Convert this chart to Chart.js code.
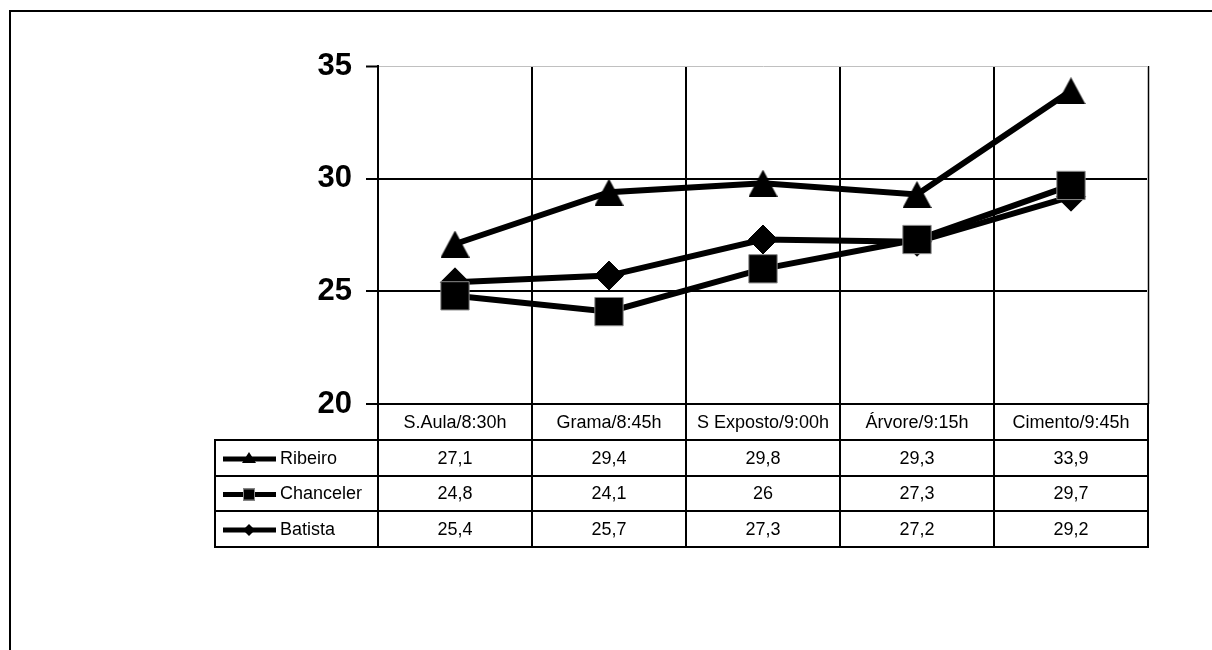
<!DOCTYPE html>
<html><head><meta charset="utf-8">
<script src="https://cdn.jsdelivr.net/npm/chart.js@4/dist/chart.umd.min.js"></script>
<style>html,body{margin:0;padding:0;background:#fff;} canvas{display:block;}</style>
</head><body>
<canvas id="c" width="1212" height="650"></canvas>
<script>
const categories = ['S.Aula/8:30h', 'Grama/8:45h', 'S Exposto/9:00h', 'Árvore/9:15h', 'Cimento/9:45h'];
const seriesNames = ['Ribeiro', 'Chanceler', 'Batista'];
const ribeiro = [27.1, 29.4, 29.8, 29.3, 33.9];
const chanceler = [24.8, 24.1, 26, 27.3, 29.7];
const batista = [25.4, 25.7, 27.3, 27.2, 29.2];
const yTicks = [20, 25, 30, 35];

const seriesValues = [ribeiro, chanceler, batista];
const markerStyles = ['triangle', 'rect', 'rectRot'];
const FONT = '"Liberation Sans", Arial, sans-serif';

const fmt = v => String(v).replace('.', ',');

// centered triangle marker image
const triCanvas = document.createElement('canvas');
triCanvas.width = 29; triCanvas.height = 27;
(function () {
  const t = triCanvas.getContext('2d');
  t.fillStyle = '#000';
  t.beginPath();
  t.moveTo(14.5, 0); t.lineTo(29, 27); t.lineTo(0, 27); t.closePath();
  t.fill();
})();

const tablePlugin = {
  id: 'tableAndFrame',
  afterDraw(chart) {
    const ctx = chart.ctx;
    const a = chart.chartArea;
    const n = categories.length;
    const colW = (a.right - a.left) / n;
    const rows = [a.bottom, 440, 476, 511, 547];
    const tableLeft = 215;
    ctx.save();
    // outer frame
    ctx.strokeStyle = '#000';
    ctx.lineWidth = 2;
    ctx.beginPath();
    ctx.moveTo(10, 650); ctx.lineTo(10, 11); ctx.lineTo(1212, 11);
    ctx.stroke();
    // plot right border (gray)
    ctx.strokeStyle = '#c0c0c0';
    ctx.lineWidth = 1;
    ctx.beginPath();
    ctx.moveTo(a.right - 0.5, a.top); ctx.lineTo(a.right - 0.5, a.bottom);
    ctx.moveTo(a.right + 1.5, a.top); ctx.lineTo(a.right + 1.5, a.bottom);
    ctx.stroke();
    // table lines
    ctx.strokeStyle = '#000';
    ctx.lineWidth = 2;
    ctx.beginPath();
    for (let i = 0; i <= n; i++) {
      const x = Math.round(a.left + i * colW);
      ctx.moveTo(x, a.bottom); ctx.lineTo(x, rows[4]);
    }
    ctx.moveTo(tableLeft, rows[1]); ctx.lineTo(tableLeft, rows[4]);
    for (let r = 1; r <= 4; r++) {
      ctx.moveTo(tableLeft - 1, rows[r]); ctx.lineTo(a.right + 1, rows[r]);
    }
    ctx.moveTo(a.left, rows[0]); ctx.lineTo(a.right + 1, rows[0]);
    ctx.stroke();
    // header text
    ctx.fillStyle = '#000';
    ctx.font = '18px ' + FONT;
    ctx.textAlign = 'center';
    ctx.textBaseline = 'middle';
    categories.forEach((c, i) => {
      ctx.fillText(c, a.left + (i + 0.5) * colW, (rows[0] + rows[1]) / 2 + 1);
    });
    // series rows
    seriesNames.forEach((name, s) => {
      const yc = (rows[s + 1] + rows[s + 2]) / 2 + 1;
      ctx.strokeStyle = '#000';
      ctx.lineWidth = 5;
      ctx.beginPath();
      ctx.moveTo(223, yc); ctx.lineTo(276, yc);
      ctx.stroke();
      ctx.fillStyle = '#000';
      ctx.beginPath();
      const mx = 249;
      if (markerStyles[s] === 'triangle') {
        ctx.moveTo(mx, yc - 7); ctx.lineTo(mx + 7, yc + 4); ctx.lineTo(mx - 7, yc + 4); ctx.closePath();
        ctx.fill();
      } else if (markerStyles[s] === 'rect') {
        ctx.rect(mx - 6, yc - 6, 12, 12);
        ctx.fill();
        ctx.strokeStyle = '#888'; ctx.lineWidth = 1;
        ctx.strokeRect(mx - 5.5, yc - 5.5, 11, 11);
      } else {
        ctx.moveTo(mx, yc - 6); ctx.lineTo(mx + 6, yc); ctx.lineTo(mx, yc + 6); ctx.lineTo(mx - 6, yc); ctx.closePath();
        ctx.fill();
      }
      ctx.fillStyle = '#000';
      ctx.font = '18px ' + FONT;
      ctx.textAlign = 'left';
      ctx.fillText(name, 280, yc);
      ctx.textAlign = 'center';
      seriesValues[s].forEach((v, i) => {
        ctx.fillText(fmt(v), a.left + (i + 0.5) * colW, yc);
      });
    });
    ctx.restore();
  }
};

new Chart(document.getElementById('c'), {
  type: 'line',
  data: {
    labels: categories,
    datasets: seriesNames.map((name, s) => ({
      label: name,
      data: seriesValues[s],
      borderColor: '#000',
      borderWidth: 6,
      backgroundColor: '#000',
      pointStyle: s === 0 ? triCanvas : markerStyles[s],
      pointRadius: [16, 20, 14.5][s],
      pointBackgroundColor: '#000',
      pointBorderColor: s === 1 ? '#8a8a8a' : '#000',
      pointBorderWidth: 1,
      tension: 0,
      fill: false,
      clip: false,
      order: [1, 0, 2][s]
    }))
  },
  options: {
    responsive: false,
    animation: false,
    events: [],
    layout: { padding: { left: 0, right: 64, top: 66, bottom: 246 } },
    plugins: { legend: { display: false }, tooltip: { enabled: false } },
    scales: {
      x: {
        type: 'category',
        offset: true,
        grid: { display: true, color: '#000', lineWidth: 2, drawTicks: false, offset: true },
        border: { display: true, color: '#000', width: 2 },
        ticks: { display: false },
        afterFit: s => { s.height = 0; }
      },
      y: {
        min: 20, max: 35,
        afterBuildTicks: s => { s.ticks = yTicks.map(v => ({ value: v })); },
        grid: {
          color: c => (c.tick && c.tick.value === 35) ? '#c0c0c0' : '#000',
          lineWidth: c => (c.tick && c.tick.value === 35) ? 1 : 2,
          tickColor: '#000', tickLength: 12, tickWidth: 2
        },
        border: { display: true, color: '#000', width: 2 },
        ticks: {
          color: '#000', padding: 14,
          font: { family: FONT, size: 31, weight: 'bold' }
        },
        afterFit: s => { s.width = 378; }
      }
    }
  },
  plugins: [tablePlugin]
});
</script>
</body></html>
